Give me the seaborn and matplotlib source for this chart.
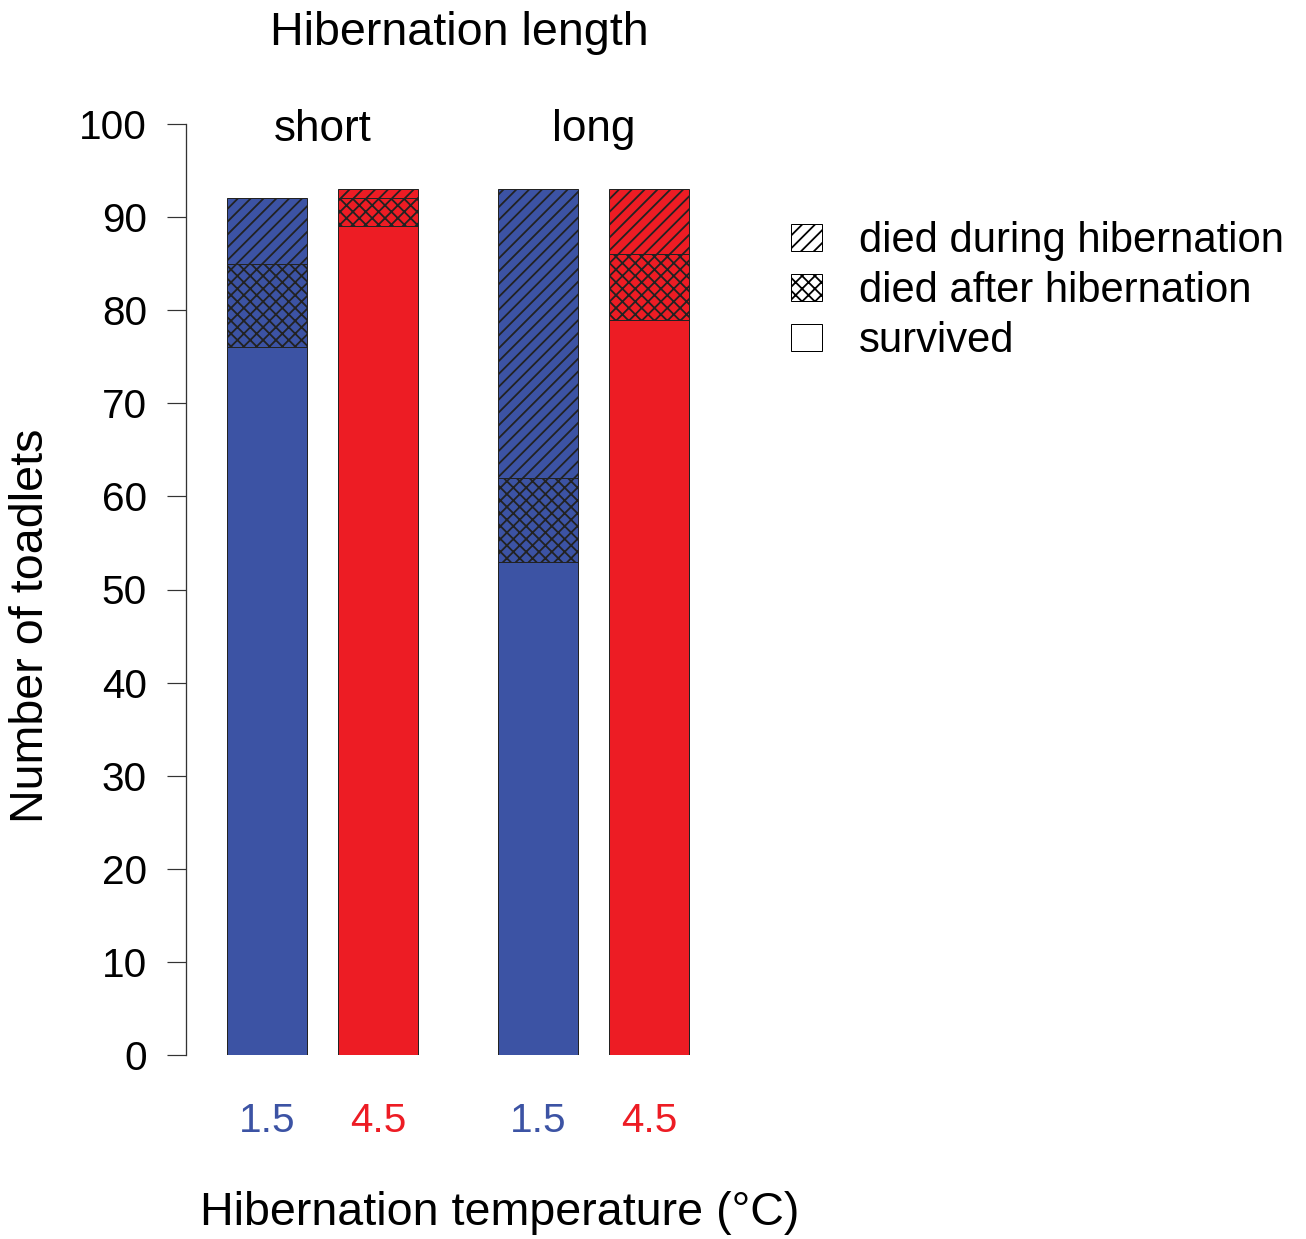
import matplotlib
matplotlib.use("Agg")
import matplotlib.pyplot as plt
import seaborn as sns
import pandas as pd
from matplotlib.patches import Patch

# ---- data ----
length = ["short", "short", "long", "long"]
temperature = ["1.5", "4.5", "1.5", "4.5"]
survived = [76, 89, 53, 79]
died_after = [9, 3, 9, 7]
died_during = [7, 1, 31, 7]
legend_labels = ["died during hibernation", "died after hibernation", "survived"]

# ---- layout ----
xpos = [1.0, 2.0, 3.441, 4.441]
temp_colors = {"1.5": "#3C53A4", "4.5": "#ED1C24"}

DPI = 77
W, H = 1306, 1239
PX = 72.0 / DPI  # points per pixel

sns.set_theme(style="white")
plt.rcParams["font.family"] = ["Liberation Sans", "DejaVu Sans"]
plt.rcParams["text.color"] = "black"
plt.rcParams["hatch.color"] = "black"
plt.rcParams["hatch.linewidth"] = 1.8 * PX

fs = 40.5 * PX
fs_big = fs * 1.15
fs_grp = fs * 1.09
fs_leg = fs * 1.03

fig = plt.figure(figsize=(W / DPI, H / DPI), dpi=DPI)
ax = fig.add_axes([186 / W, (H - 1055) / H, (730 - 186) / W, (1055 - 124) / H])

df = pd.DataFrame({
    "x": xpos,
    "temp": temperature,
    "length": length,
    "survived": survived,
    "after": [s + a for s, a in zip(survived, died_after)],
    "total": [s + a + d for s, a, d in zip(survived, died_after, died_during)],
})

layers = [("total", "//"), ("after", "xx"), ("survived", "")]
for col, hatch in layers:
    n_before = len(ax.patches)
    sns.barplot(data=df, x="x", y=col, hue="temp", palette=temp_colors,
                native_scale=True, dodge=False, width=0.72, errorbar=None,
                saturation=1, legend=False, edgecolor="#222222",
                linewidth=1.0 * PX, ax=ax)
    for p in ax.patches[n_before:]:
        p.set_hatch(hatch)

ax.set_xlim(0.27, 0.27 + (730 - 186) / 111.0)
ax.set_ylim(0, 100)
ax.set_yticks(range(0, 101, 10))
ax.tick_params(axis="y", direction="out", length=19 * PX, width=1.2 * PX,
               pad=20 * PX, labelsize=fs, colors="black", left=True)
ax.tick_params(axis="y", color="#333333")
ax.set_xticks(xpos)
ax.set_xticklabels(temperature)
ax.tick_params(axis="x", length=0, pad=47 * PX, labelsize=fs)
for lab, t in zip(ax.get_xticklabels(), temperature):
    lab.set_color(temp_colors[t])
ax.set_xlabel("")
ax.set_ylabel("")
for s in ["top", "right", "bottom"]:
    ax.spines[s].set_visible(False)
ax.spines["left"].set_color("#333333")
ax.spines["left"].set_linewidth(1.3 * PX)

# group labels
for g in ["short", "long"]:
    gx = [x for x, l in zip(xpos, length) if l == g]
    ax.text(sum(gx) / len(gx), 99.4, g, ha="center", va="center",
            fontsize=fs_grp, color="black")

fig.text(459 / W, 1 - 33 / H, "Hibernation length", ha="center", va="center",
         fontsize=fs_big, color="black")
fig.text(500 / W, 1 - 1213 / H, "Hibernation temperature (°C)", ha="center",
         va="center", fontsize=fs_big, color="black")
fig.text(31 / W, 1 - 626 / H, "Number of toadlets", ha="center", va="center",
         rotation=90, fontsize=fs_big, color="black")

handles = [Patch(facecolor="white", edgecolor="black", hatch=h, linewidth=1.0 * PX)
           for h in ["//", "xx", ""]]
leg = fig.legend(handles, legend_labels, loc="upper left",
                 bbox_to_anchor=(783 / W, 1 - 213 / H), frameon=False,
                 fontsize=fs_leg, handlelength=0.74, handleheight=0.62,
                 handletextpad=0.88, labelspacing=0.24, borderpad=0.2,
                 borderaxespad=0)
for t in leg.get_texts():
    t.set_color("black")

fig.savefig("out.png", dpi=DPI)
